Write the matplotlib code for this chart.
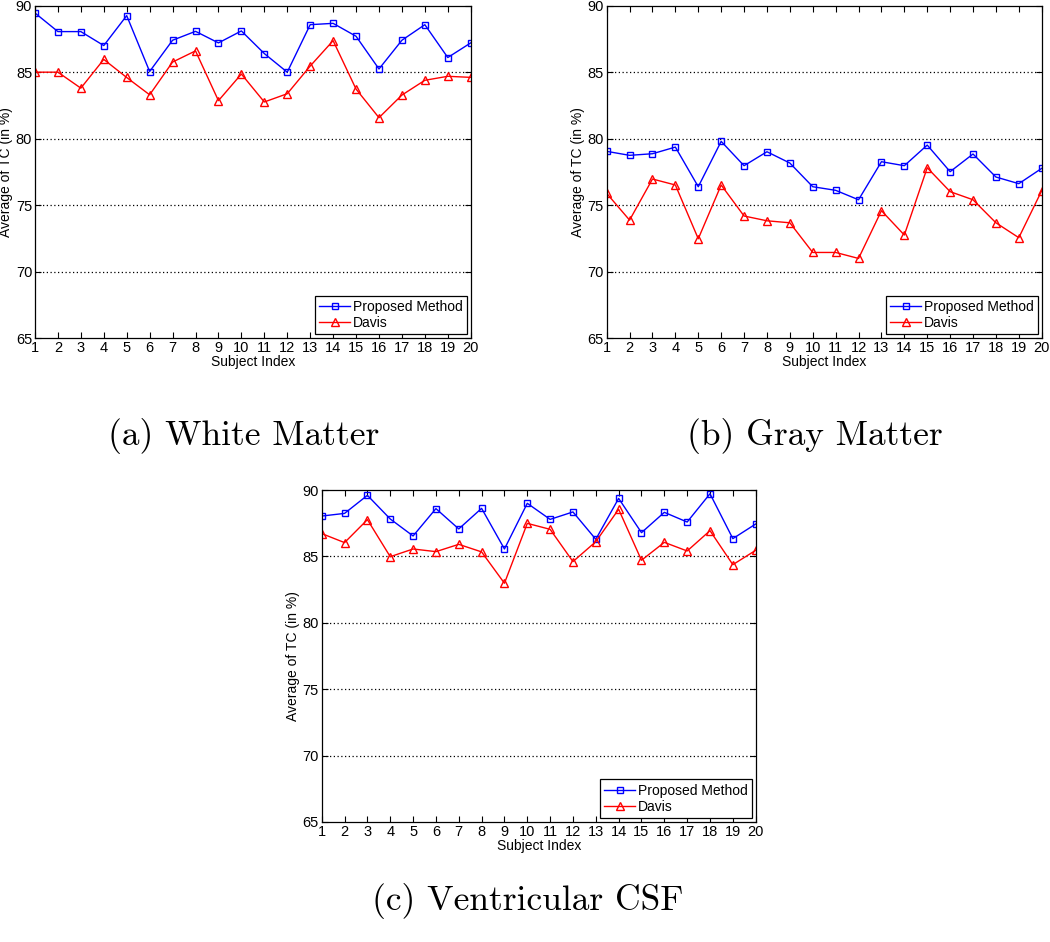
import matplotlib
matplotlib.use("Agg")
import matplotlib.pyplot as plt
import numpy as np

subjects = np.arange(1, 21)

wm_proposed = [89.45, 88.05, 88.05, 87.0, 89.25, 85.05, 87.4, 88.07, 87.2, 88.1,
               86.4, 85.0, 88.57, 88.67, 87.7, 85.24, 87.4, 88.57, 86.1, 87.2]
wm_davis = [85.0, 85.0, 83.8, 85.96, 84.6, 83.3, 85.76, 86.6, 82.86, 84.86,
            82.76, 83.38, 85.46, 87.37, 83.73, 81.58, 83.28, 84.39, 84.69, 84.61]

gm_proposed = [79.05, 78.75, 78.87, 79.37, 76.39, 79.8, 77.97, 79.02, 78.17, 76.39,
               76.12, 75.41, 78.27, 77.97, 79.52, 77.52, 78.85, 77.12, 76.62, 77.77]
gm_davis = [75.89, 73.88, 76.97, 76.52, 72.48, 76.52, 74.19, 73.83, 73.68, 71.45,
            71.45, 71.0, 74.59, 72.76, 77.82, 76.02, 75.41, 73.68, 72.56, 76.09]

csf_proposed = [88.04, 88.24, 89.6, 87.82, 86.54, 88.6, 87.07, 88.62, 85.56, 89.0,
                87.79, 88.35, 86.29, 89.37, 86.79, 88.32, 87.59, 89.72, 86.34, 87.44]
csf_davis = [86.72, 86.04, 87.77, 84.98, 85.56, 85.36, 85.91, 85.34, 82.98, 87.49,
             87.04, 84.61, 86.11, 88.55, 84.71, 86.06, 85.41, 86.94, 84.38, 85.46]

yticks = [65, 70, 75, 80, 85, 90]
captions = ["(a) White Matter", "(b) Gray Matter", "(c) Ventricular CSF"]

plt.rcParams["font.family"] = ["Liberation Sans", "DejaVu Sans"]
plt.rcParams["font.size"] = 10

fig = plt.figure(figsize=(10.5, 9.42), dpi=100, facecolor="white")

panels = [
    ([0.0333, 0.6409, 0.4150, 0.3531], wm_proposed, wm_davis),
    ([0.5778, 0.6409, 0.4143, 0.3531], gm_proposed, gm_davis),
    ([0.3064, 0.1274, 0.4133, 0.3524], csf_proposed, csf_davis),
]

for rect, prop, davis in panels:
    ax = fig.add_axes(rect)
    ax.plot(subjects, prop, color="blue", lw=1.0, marker="s", ms=4,
            mfc="none", mec="blue", mew=1.0, label="Proposed Method")
    ax.plot(subjects, davis, color="red", lw=1.0, marker="^", ms=5.5,
            mfc="none", mec="red", mew=1.0, label="Davis")
    ax.set_xlim(1, 20)
    ax.set_ylim(65, 90)
    ax.set_xticks(subjects)
    ax.set_yticks(yticks)
    ax.tick_params(direction="in", top=True, right=True, length=4, width=0.8,
                   pad=2, labelsize=10.5, colors="black")
    for y in yticks[1:-1]:
        ax.axhline(y, color="black", lw=0.9, ls=(0, (1, 2)), zorder=0)
    for s in ax.spines.values():
        s.set_linewidth(0.9)
    ax.set_xlabel("Subject Index", fontsize=10, labelpad=0)
    ax.set_ylabel("Average of TC (in %)", fontsize=10, labelpad=2)
    leg = ax.legend(loc="lower right", fontsize=10, frameon=True, fancybox=False,
                    edgecolor="black", borderpad=0.3, handlelength=2.2,
                    handletextpad=0.2, labelspacing=0.15, borderaxespad=0.3,
                    framealpha=1)
    leg.get_frame().set_linewidth(0.9)

cap_kw = dict(fontsize=25.5, family="cmr10", ha="center", va="center")
fig.text(0.232, 0.537, captions[0], **cap_kw)
fig.text(0.776, 0.537, captions[1], **cap_kw)
fig.text(0.503, 0.0440, captions[2], **cap_kw)

fig.savefig("out.png", dpi=100, facecolor="white")
